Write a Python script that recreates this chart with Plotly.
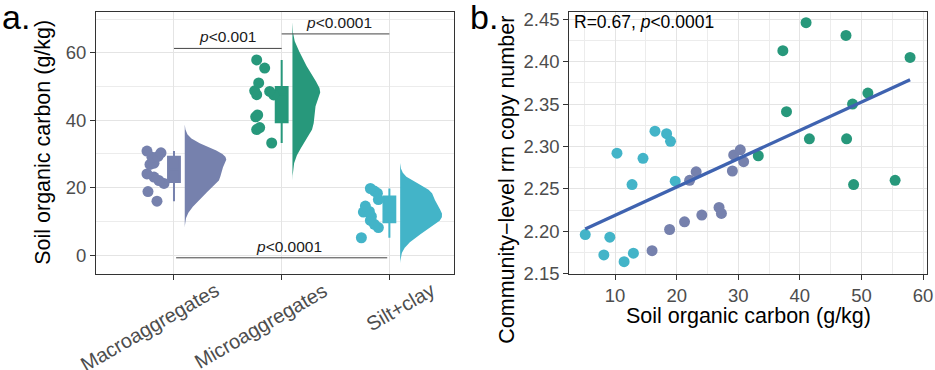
import numpy as np
import plotly.graph_objects as go

# ---------------- data ----------------
groups = ["Macroaggregates", "Microaggregates", "Silt+clay"]

soc_macro = [16.0, 18.85, 21.27, 22.1, 23.16, 24.08, 26.88, 27.26, 29.04, 29.26, 30.33, 30.87]
rrn_macro = [2.177, 2.202, 2.211, 2.260, 2.270, 2.219, 2.228, 2.221, 2.271, 2.290, 2.296, 2.282]

soc_micro = [33.25, 37.24, 37.83, 41.01, 41.55, 47.49, 47.59, 48.56, 48.73, 51.05, 55.47, 57.9]
rrn_micro = [2.289, 2.413, 2.341, 2.446, 2.309, 2.431, 2.309, 2.350, 2.255, 2.363, 2.260, 2.405]

soc_silt = [5.15, 8.17, 9.14, 10.3, 11.46, 12.75, 12.97, 14.53, 16.47, 18.36, 19.0, 19.76]
rrn_silt = [2.196, 2.172, 2.193, 2.292, 2.164, 2.255, 2.174, 2.286, 2.318, 2.315, 2.306, 2.259]

y_ticks_a = [0, 20, 40, 60]
x_ticks_b = [10, 20, 30, 40, 50, 60]
y_ticks_b = [2.15, 2.20, 2.25, 2.30, 2.35, 2.40, 2.45]

sig_pairs = [(1, 2), (2, 3), (1, 3)]
sig_labels = ["<i>p</i>&lt;0.001", "<i>p</i>&lt;0.0001", "<i>p</i>&lt;0.0001"]
stat_label = "R=0.67, <i>p</i>&lt;0.0001"

# ---------------- styles ----------------
colors = ["#7681AD", "#27987B", "#43B4C8"]
# horizontal jitter of the raincloud points (pixels -> axis units later)
jitter_px = [
    [-17, -26, -10, -15, -20, -27, -24, -20, -22, -16, -13, -27],
    [-10, -25, -22, -26, -24, -8, -25, -12, -27, -23, -17, -25],
    [-28, -11, -15, -19, -18, -26, -20, -24, -11, -12, -15, -19],
]
FONT = "Liberation Sans, Arial, Helvetica, sans-serif"
W, H = 935, 370
PX_PER_CAT = 107.7

soc = [soc_macro, soc_micro, soc_silt]
rrn = [rrn_macro, rrn_micro, rrn_silt]


def nrd0(x):
    x = np.asarray(x, float)
    sd = np.std(x, ddof=1)
    iqr = np.quantile(x, 0.75) - np.quantile(x, 0.25)
    lo = min(sd, iqr / 1.34)
    return 0.9 * lo * len(x) ** -0.2


def kde(x):
    x = np.asarray(x, float)
    bw = nrd0(x)
    grid = np.linspace(x.min() - 3 * bw, x.max() + 3 * bw, 512)
    d = np.exp(-0.5 * ((grid[:, None] - x[None, :]) / bw) ** 2).sum(1)
    d /= len(x) * bw * np.sqrt(2 * np.pi)
    return grid, d


fig = go.Figure()

# ---- panel a: half violins ----
dens = [kde(v) for v in soc]
dmax = max(d.max() for _, d in dens)
for i, (grid, d) in enumerate(dens):
    base = (i + 1) + 0.1
    xs = np.concatenate([[base], base + d / dmax * 0.39, [base]])
    ys = np.concatenate([[grid[0]], grid, [grid[-1]]])
    fig.add_trace(go.Scatter(x=xs, y=ys, mode="lines", fill="toself",
                             fillcolor=colors[i], line=dict(width=0, color=colors[i]),
                             hoverinfo="skip", showlegend=False, xaxis="x", yaxis="y"))

# ---- panel a: boxes ----
for i, v in enumerate(soc):
    fig.add_trace(go.Box(x=[i + 1] * len(v), y=v, width=0.11, boxpoints=False,
                         quartilemethod="linear", whiskerwidth=0,
                         fillcolor=colors[i], line=dict(color=colors[i], width=2),
                         showlegend=False, xaxis="x", yaxis="y"))

# ---- panel a: jittered points ----
for i, v in enumerate(soc):
    xs = [(i + 1) + j / PX_PER_CAT for j in jitter_px[i]]
    fig.add_trace(go.Scatter(x=xs, y=v, mode="markers",
                             marker=dict(size=11, color=colors[i], line=dict(width=0)),
                             showlegend=False, xaxis="x", yaxis="y"))

# ---- panel b: scatter ----
for i in range(3):
    fig.add_trace(go.Scatter(x=soc[i], y=rrn[i], mode="markers",
                             marker=dict(size=11, color=colors[i], line=dict(width=0)),
                             showlegend=False, xaxis="x2", yaxis="y2"))

allx = np.concatenate(soc)
ally = np.concatenate(rrn)
slope, icpt = np.polyfit(allx, ally, 1)
lx = np.array([allx.min(), allx.max()])
fig.add_trace(go.Scatter(x=lx, y=icpt + slope * lx, mode="lines",
                         line=dict(color="#3F63B0", width=3.3),
                         showlegend=False, xaxis="x2", yaxis="y2"))

# ---------------- layout ----------------
def dom_x(a, b):
    return [a / W, b / W]


def dom_y(top, bot):
    return [1 - bot / H, 1 - top / H]


axis_common = dict(showline=True, mirror=True, linecolor="#333333", linewidth=1.1,
                   ticks="outside", ticklen=5, tickwidth=1.1, tickcolor="#333333",
                   showgrid=True, gridcolor="#E4E4E4", gridwidth=1.3, zeroline=False,
                   automargin=False,
                   tickfont=dict(family=FONT, size=18.5, color="#4D4D4D"))
minor_common = dict(showgrid=True, gridcolor="#ECECEC", gridwidth=0.9, ticks="")

fig.update_layout(
    width=W, height=H, margin=dict(l=0, r=0, t=0, b=0),
    paper_bgcolor="white", plot_bgcolor="white", showlegend=False,
    font=dict(family=FONT, color="black"),
    xaxis=dict(domain=dom_x(96, 454), range=[0.276, 3.6], tickmode="array",
               tickvals=[1, 2, 3], showticklabels=False, anchor="y", **axis_common),
    yaxis=dict(domain=dom_y(12, 274), range=[-5.6, 72.1], tickmode="array",
               tickvals=y_ticks_a, anchor="x",
               minor=dict(tickvals=[10, 30, 50, 70], **minor_common), **axis_common),
    xaxis2=dict(domain=dom_x(569.3, 926.7), range=[2.56, 60.6], tickmode="array",
                tickvals=x_ticks_b, anchor="y2",
                minor=dict(tickvals=[5, 15, 25, 35, 45, 55], **minor_common), **axis_common),
    yaxis2=dict(domain=dom_y(12, 274), range=[2.1495, 2.4586], tickmode="array",
                tickvals=y_ticks_b, tickformat=".2f", anchor="x2",
                minor=dict(tickvals=[2.175, 2.225, 2.275, 2.325, 2.375, 2.425], **minor_common),
                **axis_common),
)

# significance brackets
sig_y = [61.3, 65.6, -0.8]
sig_x_inset = [0.0, 0.0, 0.02]
sig_text_pos = [(1.5, 64.9), (2.53, 68.9), (2.07, 2.7)]
for (a, b), yy, ins in zip(sig_pairs, sig_y, sig_x_inset):
    fig.add_shape(type="line", x0=a + ins, x1=b - ins, y0=yy, y1=yy, xref="x", yref="y",
                  line=dict(color="#444444", width=1))
for lab, (tx, ty) in zip(sig_labels, sig_text_pos):
    fig.add_annotation(text=lab, x=tx, y=ty, xref="x", yref="y", showarrow=False,
                       xanchor="center", yanchor="middle",
                       font=dict(family=FONT, size=15.5, color="#1A1A1A"))

# rotated category labels
for i, g in enumerate(groups):
    fig.add_annotation(text=g, x=(i + 1) + 0.48, y=1 - 276 / H, xref="x", yref="paper",
                       showarrow=False, textangle=-30, xanchor="right", yanchor="top",
                       font=dict(family=FONT, size=20, color="#4D4D4D"))

# axis titles
fig.add_annotation(text="Soil organic carbon (g/kg)", x=43 / W, y=1 - 142.8 / H,
                   xref="paper", yref="paper", showarrow=False, textangle=-90,
                   xanchor="center", yanchor="middle", font=dict(family=FONT, size=21.5))
fig.add_annotation(text="Community\u2212level rrn copy number", x=506.7 / W, y=1 - 180 / H,
                   xref="paper", yref="paper", showarrow=False, textangle=-90,
                   xanchor="center", yanchor="middle", font=dict(family=FONT, size=21.5))
fig.add_annotation(text="Soil organic carbon (g/kg)", x=748 / W, y=1 - 316 / H,
                   xref="paper", yref="paper", showarrow=False,
                   xanchor="center", yanchor="middle", font=dict(family=FONT, size=21.5))

# stat label
fig.add_annotation(text=stat_label, x=3.0, y=2.447, xref="x2", yref="y2", showarrow=False,
                   xanchor="left", yanchor="middle", font=dict(family=FONT, size=17.5, color="black"))

# panel labels
fig.add_annotation(text="a.", x=0, y=1 - 17 / H, xref="paper", yref="paper",
                   showarrow=False, xanchor="left", yanchor="middle",
                   font=dict(family=FONT, size=34, color="black"))
fig.add_annotation(text="b.", x=468 / W, y=1 - 17 / H, xref="paper", yref="paper",
                   showarrow=False, xanchor="left", yanchor="middle",
                   font=dict(family=FONT, size=34, color="black"))

fig.write_html("out.html", config={"displayModeBar": False},
               post_script="document.body.style.margin='0';document.body.style.padding='0';")
